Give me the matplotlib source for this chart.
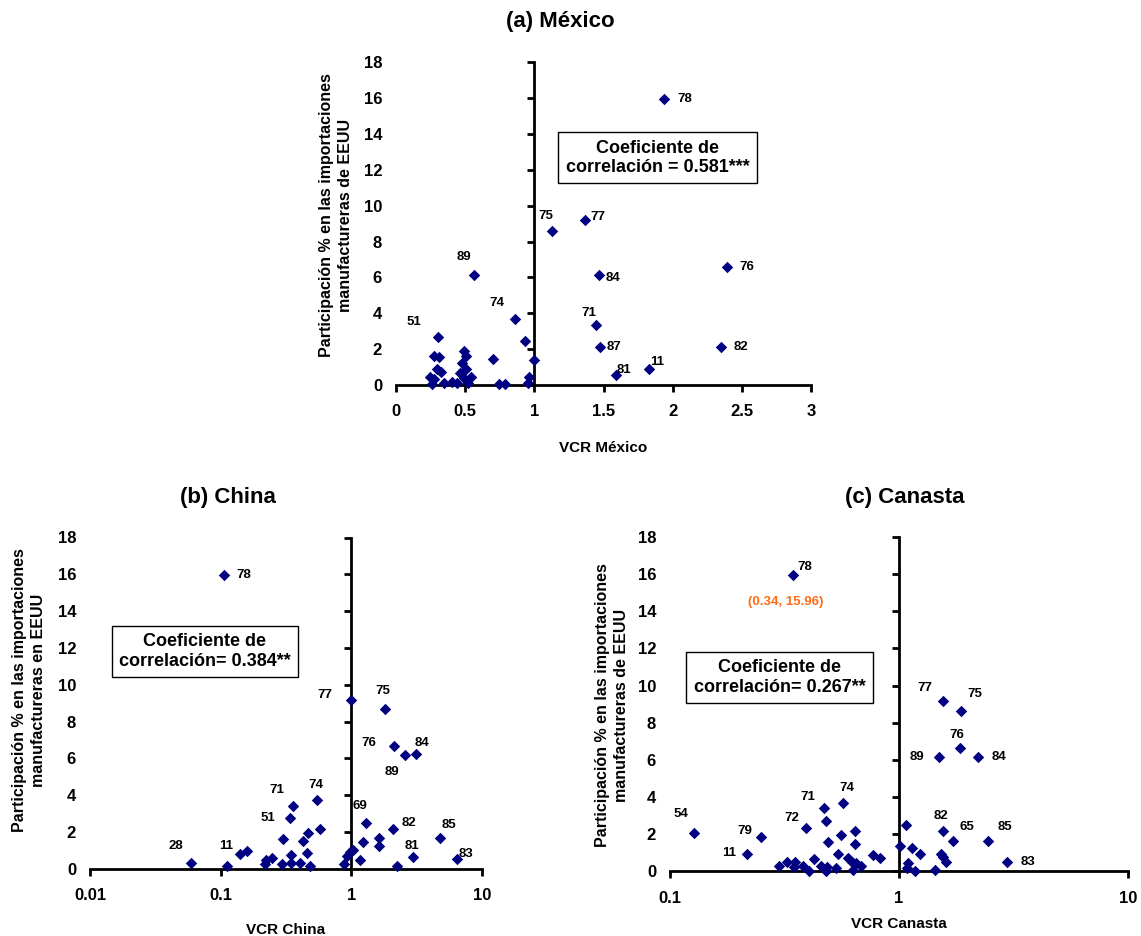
import matplotlib
matplotlib.use('Agg')
import matplotlib.pyplot as plt
from matplotlib.ticker import NullLocator

plt.rcParams['font.family'] = ['Liberation Sans', 'DejaVu Sans']
plt.rcParams['font.weight'] = 'bold'
plt.rcParams['axes.labelweight'] = 'bold'

# ---------------- data ----------------
# (a) México
mex_x = [1.94, 1.367, 1.125, 2.396, 1.466, 0.563, 0.862, 1.447, 1.474, 2.348, 1.83, 1.587, 0.30,
         0.933, 0.273, 0.312, 0.488, 0.509, 0.701, 0.995, 0.480, 0.297, 0.326, 0.246, 0.507, 0.464,
         0.541, 0.278, 0.964, 0.259, 0.348, 0.404, 0.440, 0.524, 0.741, 0.790, 0.951, 0.488]
mex_y = [15.96, 9.19, 8.61, 6.56, 6.13, 6.13, 3.68, 3.34, 2.10, 2.10, 0.88, 0.56, 2.69,
         2.45, 1.62, 1.55, 1.90, 1.63, 1.45, 1.39, 1.21, 0.91, 0.71, 0.46, 0.88, 0.65,
         0.43, 0.32, 0.43, 0.04, 0.09, 0.18, 0.13, 0.13, 0.04, 0.04, 0.13, 0.37]
mex_lab = ['78', '77', '75', '76', '84', '89', '74', '71', '87', '82', '11', '81', '51'] + [''] * 25

# (b) China
chn_x = [0.106, 1.0, 1.82, 2.12, 3.13, 2.59, 0.547, 0.356, 0.34, 1.29, 2.07, 4.77, 2.95, 6.47, 0.112, 0.059,
         0.573, 0.469, 0.425, 0.30, 0.456, 0.347, 0.247, 0.222, 0.219, 0.293, 0.347, 0.405, 0.483,
         0.141, 0.158, 0.884, 0.93, 0.98, 1.03, 1.22, 1.17, 1.62, 1.62, 2.22]
chn_y = [15.96, 9.17, 8.68, 6.67, 6.25, 6.16, 3.72, 3.39, 2.76, 2.48, 2.17, 1.69, 0.65, 0.53, 0.15, 0.33,
         2.17, 1.92, 1.51, 1.61, 0.87, 0.73, 0.60, 0.49, 0.26, 0.24, 0.29, 0.31, 0.15,
         0.78, 0.95, 0.24, 0.71, 0.90, 1.00, 1.43, 0.46, 1.69, 1.25, 0.15]
chn_lab = ['78', '77', '75', '76', '84', '89', '74', '71', '51', '69', '82', '85', '81', '83', '11', '28'] + [''] * 24

# (c) Canasta
can_x = [0.344, 1.55, 1.87, 1.84, 1.50, 2.22, 1.55, 1.72, 2.44, 2.97, 0.567, 0.471, 0.391, 0.249, 0.217, 0.127,
         0.481, 0.56, 0.64, 0.489, 0.64, 0.54, 0.771, 0.822, 0.425, 0.60, 0.625, 0.65, 0.68, 0.30,
         0.325, 0.353, 0.347, 0.38, 0.406, 0.457, 0.478, 0.486, 0.532, 0.63, 1.07, 1.015, 1.14,
         1.23, 1.10, 1.08, 1.17, 1.43, 1.52, 1.56, 1.60]
can_y = [15.96, 9.17, 8.63, 6.64, 6.17, 6.17, 2.17, 1.63, 1.63, 0.48, 3.69, 3.39, 2.35, 1.86, 0.95, 2.08,
         2.71, 1.94, 2.17, 1.58, 1.47, 0.93, 0.89, 0.70, 0.65, 0.70, 0.52, 0.43, 0.29, 0.29,
         0.48, 0.48, 0.21, 0.29, 0.02, 0.29, 0.02, 0.21, 0.16, 0.07, 2.49, 1.38, 1.24,
         0.93, 0.43, 0.16, 0.02, 0.07, 0.93, 0.75, 0.52]
can_lab = ['78', '77', '75', '76', '89', '84', '82', '65', '85', '83', '74', '71', '72', '79', '11', '54'] + [''] * 35

mex_ticks = [0, 0.5, 1, 1.5, 2, 2.5, 3]
mex_ticklabels = ['0', '0.5', '1', '1.5', '2', '2.5', '3']
chn_ticks = [0.01, 0.1, 1, 10]
chn_ticklabels = ['0.01', '0.1', '1', '10']
can_ticks = [0.1, 1, 10]
can_ticklabels = ['0.1', '1', '10']
y_ticks = list(range(0, 19, 2))

# label offsets (pixels: right, down) -- styling only
off_a = {'78': (20, 0), '75': (-6, -15), '77': (13, -3), '89': (-10, -18), '74': (-18, -16),
         '51': (-24, -15), '84': (14, 3), '76': (19, 0), '71': (-7, -12), '87': (14, 0),
         '82': (20, 0), '11': (8, -7), '81': (8, -5)}
off_b = {'78': (20, 0), '77': (-26, -5), '75': (-3, -18), '76': (-25, -3), '84': (6, -11),
         '89': (-13, 17), '74': (-1, -15), '71': (-16, -16), '51': (-22, 0), '69': (-6, -17),
         '82': (16, -6), '85': (9, -13), '81': (-1, -11), '83': (9, -5), '11': (-1, -20), '28': (-15, -17)}
off_c = {'78': (12, -8), '77': (-18, -13), '75': (14, -17), '76': (-3, -13), '89': (-22, 0),
         '84': (21, 0), '82': (-2, -15), '65': (14, -14), '85': (17, -14), '83': (21, 0),
         '74': (4, -15), '71': (-16, -11), '72': (-14, -10), '79': (-16, -6), '11': (-18, -1), '54': (-13, -19)}

W, H = 1141, 936
fig = plt.figure(figsize=(W / 100, H / 100), dpi=100)


def px_axes(l, r, t, b):
    return fig.add_axes([l / W, 1 - b / H, (r - l) / W, (b - t) / H])


NAVY = '#000080'


def panel(ax, xs, ys, labs, offs, ticks, ticklabels, log, xlabel, xlab_y):
    if log:
        ax.set_xscale('log')
    ax.set_xlim(ticks[0], ticks[-1])
    ax.set_xticks(ticks)
    ax.set_xticklabels(ticklabels)
    ax.xaxis.set_minor_locator(NullLocator())
    ax.set_ylim(0, 18)
    ax.set_yticks(y_ticks)
    ax.spines['top'].set_visible(False)
    ax.spines['right'].set_visible(False)
    ax.spines['left'].set_position(('data', 1))
    for s in ('left', 'bottom'):
        ax.spines[s].set_linewidth(2)
    ax.tick_params(axis='y', direction='out', length=5, width=2, labelleft=False)
    ax.tick_params(axis='x', direction='out', length=5, width=2, labelsize=12, pad=9)
    ax.patch.set_visible(False)
    sec = ax.secondary_yaxis('left')
    sec.set_yticks(y_ticks)
    sec.spines['left'].set_visible(False)
    sec.tick_params(length=0, labelsize=12, pad=10)
    ax.scatter(xs, ys, marker='D', s=34, color=NAVY, clip_on=False, zorder=3, linewidths=0)
    for x, y, l in zip(xs, ys, labs):
        if l:
            dx, dy = offs[l]
            ax.annotate(l, (x, y), xytext=(dx, -dy), textcoords='offset pixels',
                        ha='center', va='center', fontsize=9.5)
    ax.set_xlabel(xlabel, fontsize=11, fontweight='bold')
    ax.xaxis.set_label_coords(0.5, xlab_y)
    ax.xaxis.label.set_va('top')


axA = px_axes(396, 811, 62.3, 385)
axB = px_axes(90, 482, 537.5, 868.7)
axC = px_axes(670, 1128, 536.9, 871.3)

panel(axA, mex_x, mex_y, mex_lab, off_a, mex_ticks, mex_ticklabels, False, 'VCR México', -0.175)
panel(axB, chn_x, chn_y, chn_lab, off_b, chn_ticks, chn_ticklabels, True, 'VCR China', -0.163)
panel(axC, can_x, can_y, can_lab, off_c, can_ticks, can_ticklabels, True, 'VCR Canasta', -0.137)

box = dict(boxstyle='square,pad=0.4', facecolor='white', edgecolor='black', linewidth=1)
axA.text(0.630, 0.704, 'Coeficiente de\ncorrelación = 0.581***', transform=axA.transAxes,
         ha='center', va='center', fontsize=13, bbox=box, multialignment='center')
axB.text(0.293, 0.656, 'Coeficiente de\ncorrelación= 0.384**', transform=axB.transAxes,
         ha='center', va='center', fontsize=13, bbox=box, multialignment='center')
axC.text(0.239, 0.580, 'Coeficiente de\ncorrelación= 0.267**', transform=axC.transAxes,
         ha='center', va='center', fontsize=13, bbox=box, multialignment='center')

axC.annotate('(0.34, 15.96)', (can_x[0], can_y[0]), xytext=(-7, -27), textcoords='offset pixels',
             ha='center', va='center', fontsize=9.5, color='#FF6A13')

ylab1 = 'Participación % en las importaciones\nmanufactureras de EEUU'
ylab2 = 'Participación % en las importaciones\nmanufactureras en EEUU'
fig.text(336 / W, 1 - 215 / H, ylab1, rotation=90, ha='center', va='center', fontsize=11.5,
         multialignment='center', linespacing=1.3)
fig.text(29 / W, 1 - 690 / H, ylab2, rotation=90, ha='center', va='center', fontsize=11.5,
         multialignment='center', linespacing=1.3)
fig.text(612 / W, 1 - 705 / H, ylab1, rotation=90, ha='center', va='center', fontsize=11.5,
         multialignment='center', linespacing=1.3)

fig.text(560 / W, 1 - 22 / H, '(a) México', ha='center', va='center', fontsize=16)
fig.text(228 / W, 1 - 497 / H, '(b) China', ha='center', va='center', fontsize=16)
fig.text(905 / W, 1 - 497 / H, '(c) Canasta', ha='center', va='center', fontsize=16)

fig.savefig('out.png', dpi=100)
